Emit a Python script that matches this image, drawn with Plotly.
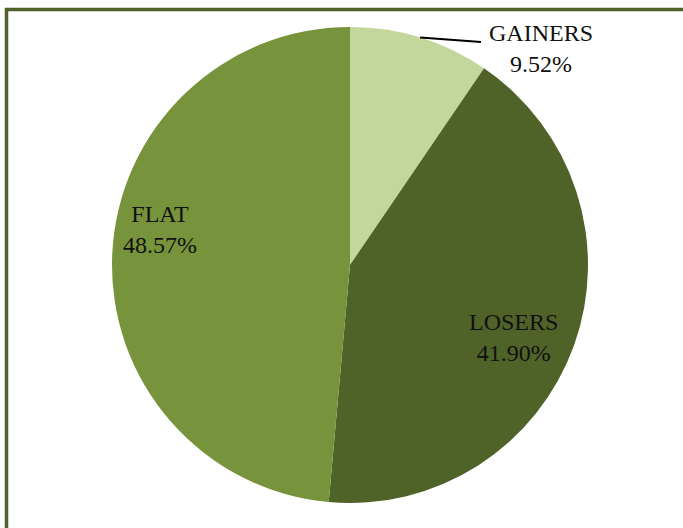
import math
import plotly.graph_objects as go

# Data
labels = ["GAINERS", "LOSERS", "FLAT"]
values = [9.52, 41.90, 48.57]
colors = ["#c3d69b", "#4f6228", "#77933c"]

W, H = 683, 528
# pie geometry (pixels)
cx, cy, R = 350, 265, 238

fig = go.Figure(go.Pie(
    labels=labels,
    values=values,
    sort=False,
    direction="clockwise",
    rotation=0,
    marker=dict(colors=colors, line=dict(width=0)),
    textinfo="none",
    hoverinfo="label+percent",
    showlegend=False,
    domain=dict(x=[(cx - R) / W, (cx + R) / W], y=[1 - (cy + R) / H, 1 - (cy - R) / H]),
))

font = dict(family="Liberation Serif", size=24, color="#111111")

# label positions (pixels, block centres)
label_pos = {"GAINERS": (541, 48.5), "LOSERS": (513, 337), "FLAT": (160, 229)}

annotations = []
for lab, val in zip(labels, values):
    px, py = label_pos[lab]
    annotations.append(dict(
        x=px / W, y=1 - py / H, xref="paper", yref="paper",
        text=f"{lab}<br>{val:.2f}%", showarrow=False,
        xanchor="center", yanchor="middle", font=font, align="center",
    ))

# leader line for GAINERS from the slice's mid-angle on the rim
total = sum(values)
mid = values[0] / 2 / total * 2 * math.pi
ex = cx + R * math.sin(mid)
ey = cy - R * math.cos(mid)
shapes = [
    dict(type="line", xref="paper", yref="paper",
         x0=ex / W, y0=1 - ey / H, x1=481 / W, y1=1 - 42 / H,
         line=dict(color="black", width=2)),
    # outer frame (cropped on right/bottom)
    dict(type="rect", xref="paper", yref="paper",
         x0=6.5 / W, y0=-0.2, x1=1.2, y1=1 - 9.5 / H,
         line=dict(color="#4f6228", width=3.5), fillcolor="rgba(0,0,0,0)"),
]

fig.update_layout(
    width=W, height=H,
    margin=dict(l=0, r=0, t=0, b=0),
    paper_bgcolor="white",
    plot_bgcolor="white",
    annotations=annotations,
    shapes=shapes,
    font=dict(family="Liberation Serif"),
)

fig.write_html(
    "out.html",
    config={"displayModeBar": False},
    post_script="document.body.style.margin='0';document.body.style.overflow='hidden';",
)
